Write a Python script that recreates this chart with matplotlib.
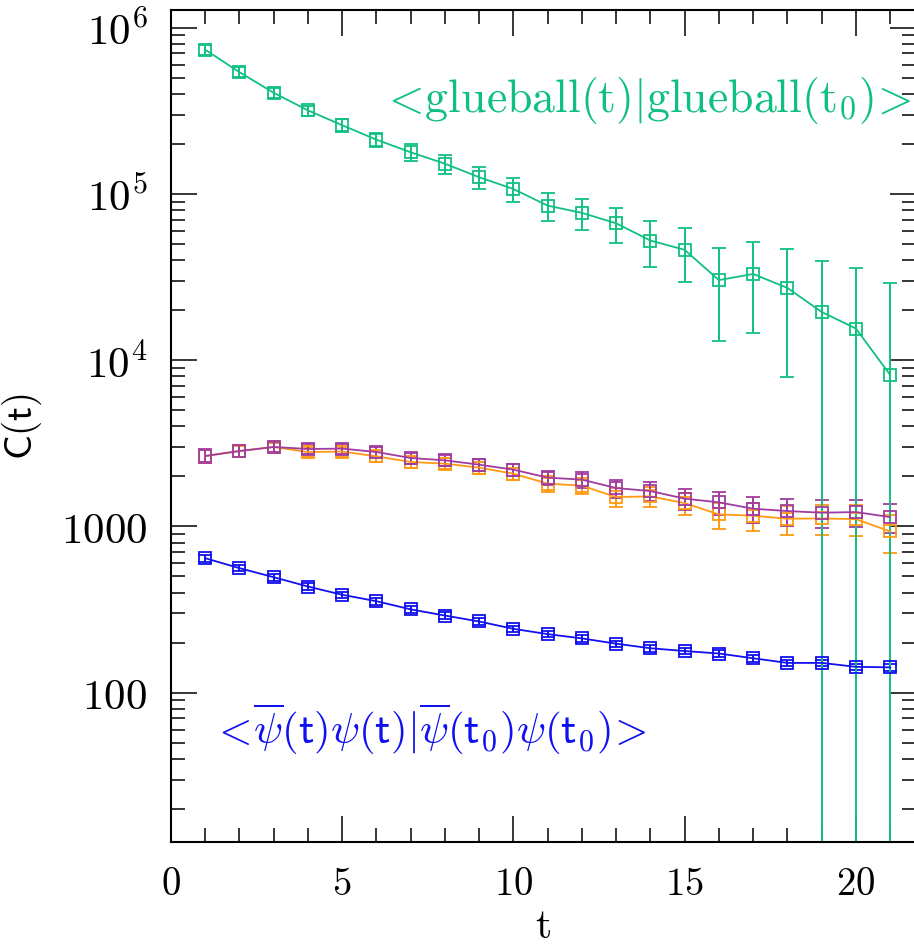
import matplotlib
matplotlib.use("Agg")
import matplotlib.pyplot as plt
import numpy as np
from matplotlib.ticker import LogLocator, NullFormatter

plt.rcParams['mathtext.fontset'] = 'cm'
plt.rcParams['font.family'] = ['DejaVu Serif']

t = np.arange(1, 22)

glue = [7.37e5, 5.40e5, 4.06e5, 3.18e5, 2.59e5, 2.12e5, 1.78e5, 1.52e5, 1.26e5, 1.07e5,
        8.5e4, 7.69e4, 6.66e4, 5.24e4, 4.61e4, 3.03e4, 3.30e4, 2.72e4, 1.95e4, 1.55e4, 8.15e3]
glue_err = [5e4, 3.8e4, 2.8e4, 2.2e4, 2.3e4, 2.1e4, 2.05e4, 1.95e4, 1.95e4, 1.7e4,
            1.6e4, 1.63e4, 1.6e4, 1.6e4, 1.66e4, 1.73e4, 1.84e4, 1.93e4, 2.0e4, 2.05e4, 2.1e4]

purple = [2652, 2842, 3004, 2922, 2938, 2803, 2579, 2498, 2352, 2195,
          1966, 1911, 1701, 1632, 1469, 1395, 1278, 1237, 1209, 1220, 1138]
purple_err = [250, 230, 200, 200, 200, 200, 190, 190, 190, 190,
              200, 210, 210, 210, 210, 220, 230, 230, 230, 230, 220]

orange = [2650, 2840, 3004, 2803, 2818, 2641, 2441, 2385, 2256, 2076,
          1808, 1759, 1502, 1516, 1381, 1181, 1160, 1112, 1117, 1106, 933]
orange_err = [250, 220, 190, 190, 190, 190, 180, 180, 180, 180,
              190, 200, 200, 200, 210, 210, 220, 220, 230, 230, 240]

blue = [644, 561, 495, 435, 388, 355, 317, 291, 268, 242,
        225, 212, 197, 185, 178, 172, 161, 151, 151, 143, 142]
blue_err = [0.045 * v for v in blue]

ytick_vals = [100, 1000, 1e4, 1e5, 1e6]
ytick_labels = [r'$\mathsf{100}$', r'$\mathsf{1000}$', r'$\mathsf{10^4}$', r'$\mathsf{10^5}$', r'$\mathsf{10^6}$']
xtick_vals = [0, 5, 10, 15, 20]

fig = plt.figure(figsize=(9.14, 9.46), dpi=100)
ax = fig.add_axes([0.187, 0.110, 0.815, 0.879])
ax.set_yscale('log')

series = [
    (orange, orange_err, '#ff9a10'),
    (purple, purple_err, '#a03ca0'),
    (blue, blue_err, '#1010f0'),
    (glue, glue_err, '#10c080'),
]
for vals, errs, col in series:
    ax.errorbar(t, vals, yerr=errs, color=col, marker='s', markersize=8.5,
                markerfacecolor='none', markeredgewidth=1.3, linewidth=1.3,
                elinewidth=1.4, capsize=5, capthick=1.4)

ax.set_xlim(0, 21.75)
ax.set_ylim(12.65, 1.27e6)

ax.set_yticks(ytick_vals)
ax.set_yticklabels(ytick_labels)
ax.yaxis.set_minor_locator(LogLocator(base=10, subs=np.arange(2, 10)))
ax.yaxis.set_minor_formatter(NullFormatter())
ax.set_xticks(xtick_vals)
ax.set_xticklabels([r'$\mathrm{%d}$' % v for v in xtick_vals])
ax.set_xticks(np.arange(0, 22), minor=True)

ax.tick_params(which='both', direction='in', top=True, right=True, width=1.1)
ax.tick_params(which='major', length=19, labelsize=28, pad=17)
ax.tick_params(axis='y', which='major', labelsize=31)
ax.tick_params(which='minor', length=10)
for s in ax.spines.values():
    s.set_linewidth(1.5)

ax.set_xlabel(r'$\mathrm{t}$', fontsize=30, labelpad=2)
ax.set_ylabel(r'$\mathsf{C(t)}$', fontsize=28, labelpad=12)

ax.text(6.1, 3.65e5, r'$<\!\mathrm{glueball(t)|glueball(t_0)}\!>$',
        color='#10c080', fontsize=33, ha='left', va='center')
ax.text(1.17, 60, r'$<\!\overline{\psi}(\mathsf{t})\psi(\mathsf{t})|\overline{\psi}(\mathsf{t_0})\psi(\mathsf{t_0})\!>$',
        color='#1010f0', fontsize=31, ha='left', va='center')

fig.savefig('out.png', dpi=100)
